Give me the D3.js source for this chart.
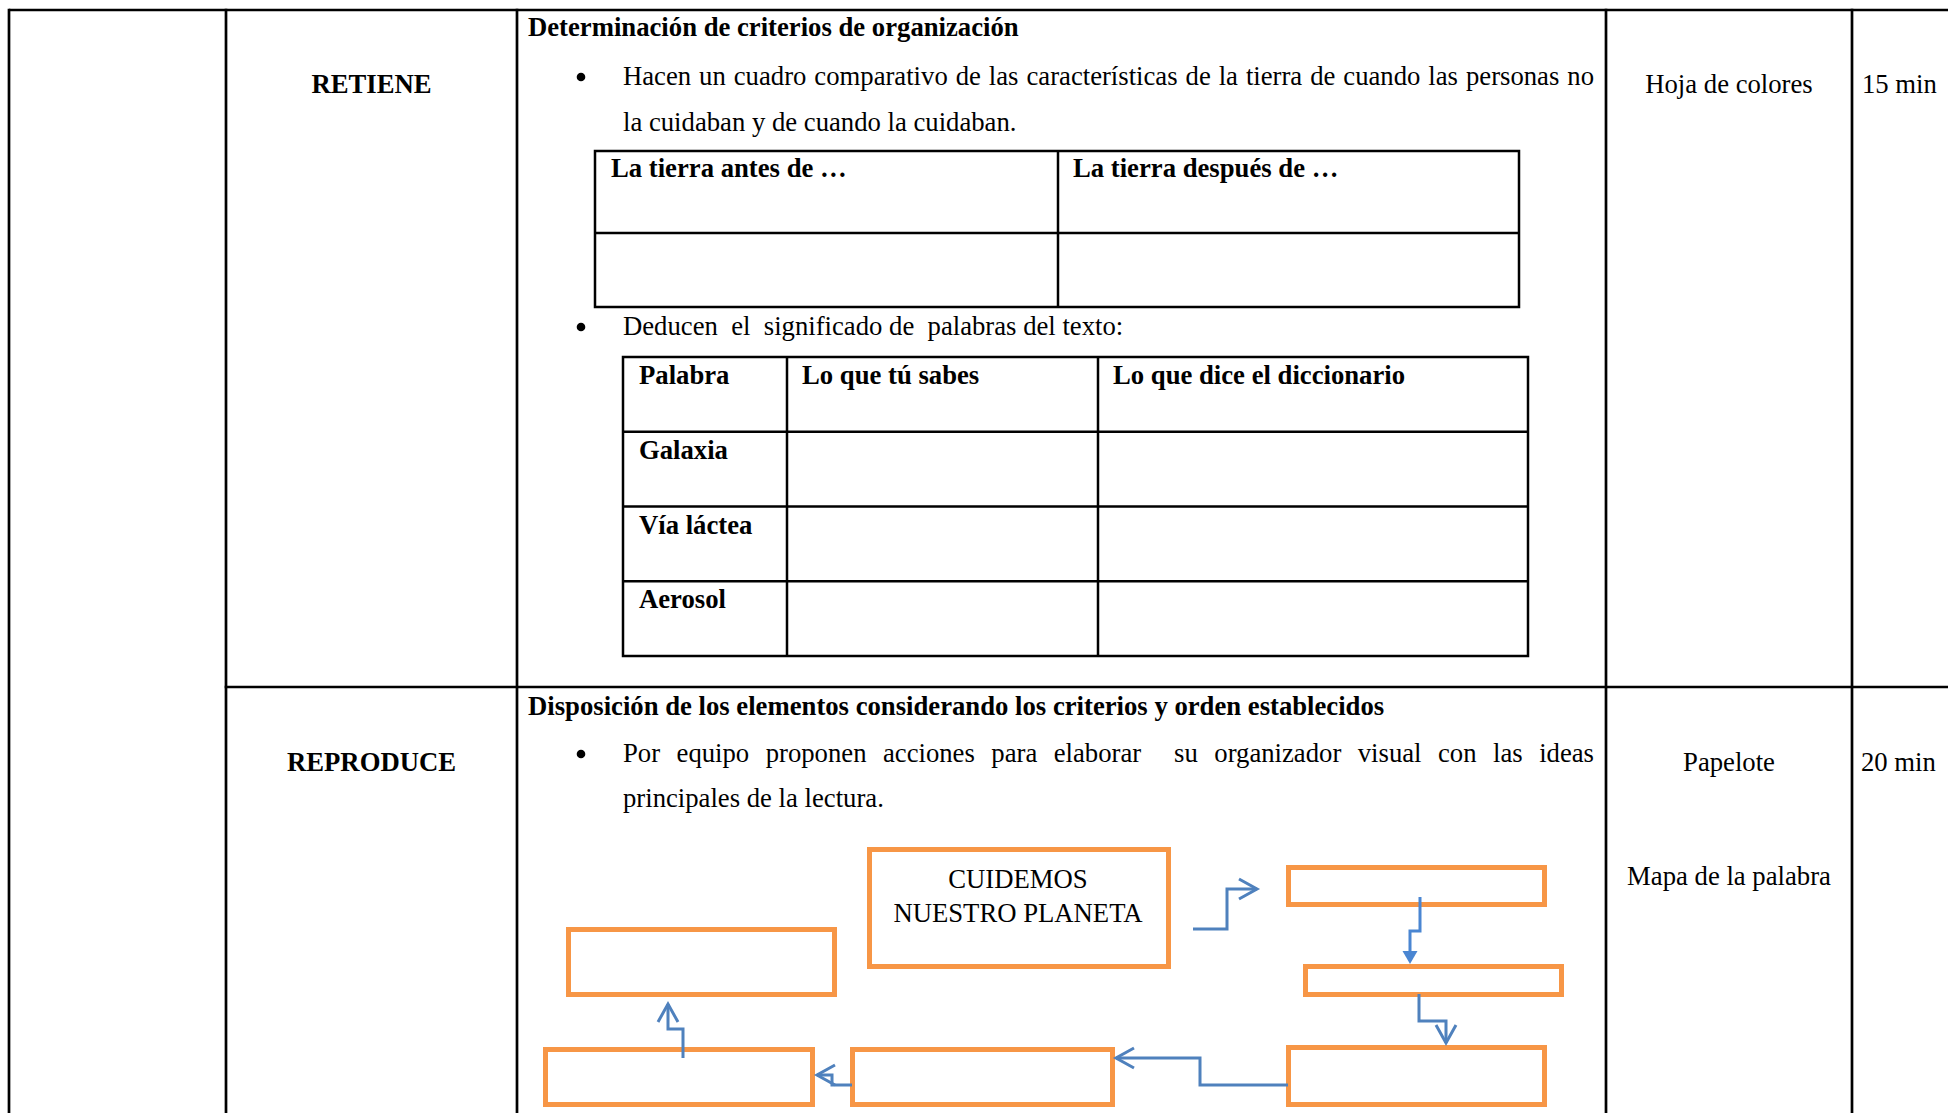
<!DOCTYPE html>
<html>
<head>
<meta charset="utf-8">
<script src="https://cdn.jsdelivr.net/npm/d3@7"></script>
<style>
html, body { margin: 0; padding: 0; background: #fff; overflow: hidden; }
svg text { font-family: "Liberation Serif", "Times New Roman", serif; fill: #000; white-space: pre; }
</style>
</head>
<body>
<svg id="page" width="1948" height="1113"></svg>
<script>
// ---------------- content (data) ----------------
const phases = ["RETIENE", "REPRODUCE"];
const headings = [
  "Determinación de criterios de organización",
  "Disposición de los elementos considerando los criterios y orden establecidos"
];
const retieneBullet1 = [
  "Hacen un cuadro comparativo de las características de la tierra de cuando las personas no",
  "la cuidaban y de cuando la cuidaban."
];
const retieneBullet2 = ["Deducen  el  significado de  palabras del texto:"];
const reproduceBullet = [
  "Por equipo proponen acciones para elaborar  su organizador visual con las ideas",
  "principales de la lectura."
];
const compareHeaders = ["La tierra antes de …", "La tierra después de …"];
const wordHeaders = ["Palabra", "Lo que tú sabes", "Lo que dice el diccionario"];
const words = ["Galaxia", "Vía láctea", "Aerosol"];
const resources = [["Hoja de colores"], ["Papelote", "Mapa de la palabra"]];
const times = ["15 min", "20 min"];
const mapTitle = ["CUIDEMOS", "NUESTRO PLANETA"];
const mapNodes = ["title", "upperLeft", "bottomLeft", "bottomMid", "topRight", "midRight", "bottomRight"];
const mapLinks = [
  ["title", "topRight", "open"],
  ["topRight", "midRight", "filled"],
  ["midRight", "bottomRight", "open"],
  ["bottomRight", "bottomMid", "open"],
  ["bottomMid", "bottomLeft", "open"],
  ["bottomLeft", "upperLeft", "open"]
];

// ---------------- layout ----------------
const W = 1948, H = 1113;
const FS = 26.7;
const colX = [9, 226, 517, 1606, 1852, 2000];
const rowY = [10, 687, 1200];
const ORANGE = "#F79646", BLUE = "#4F81BD", BLUE2 = "#4A86D2";

const svg = d3.select("#page");
svg.append("rect").attr("width", W).attr("height", H).attr("fill", "#fff");

const g = svg.append("g");

// main table lines
const line = (x1, y1, x2, y2, sw) => g.append("line")
  .attr("x1", x1).attr("y1", y1).attr("x2", x2).attr("y2", y2)
  .attr("stroke", "#000").attr("stroke-width", sw);

line(colX[0], rowY[0], W + 10, rowY[0], 2.7);
colX.slice(0, 5).forEach(x => line(x, rowY[0] - 1.3, x, H + 10, 2.7));
line(colX[1] - 1.3, rowY[1], W + 10, rowY[1], 2.7);

function txt(s, x, y, opts = {}) {
  const t = g.append("text").attr("x", x).attr("y", y)
    .attr("font-size", FS)
    .attr("font-weight", opts.bold ? "bold" : "normal")
    .attr("text-anchor", opts.anchor || "start")
    .text(s);
  if (opts.justify) {
    const w = t.node().getComputedTextLength();
    const n = (s.match(/ /g) || []).length;
    if (n) t.style("word-spacing", ((opts.justify - x - w) / n) + "px");
  }
  return t;
}
function bullet(x, y) {
  g.append("circle").attr("cx", x).attr("cy", y).attr("r", 4.3).attr("fill", "#000");
}

const phaseCx = (colX[1] + colX[2]) / 2;
const resCx = (colX[3] + colX[4]) / 2;
const textX = 528, bulletX = 581, bulletTextX = 623, justifyEnd = 1594;

// ----- row 1 -----
txt(phases[0], phaseCx, 93, { bold: true, anchor: "middle" });
txt(headings[0], textX, 36, { bold: true });
bullet(bulletX, 77);
txt(retieneBullet1[0], bulletTextX, 85, { justify: justifyEnd });
txt(retieneBullet1[1], bulletTextX, 131);
txt(resources[0][0], resCx, 93, { anchor: "middle" });
txt(times[0], 1862, 93);

// comparison table
const t1 = { x0: 595, x1: 1519, xm: 1058, y0: 151, ym: 233, y1: 307 };
g.append("rect").attr("x", t1.x0).attr("y", t1.y0).attr("width", t1.x1 - t1.x0).attr("height", t1.y1 - t1.y0)
  .attr("fill", "none").attr("stroke", "#000").attr("stroke-width", 2.5);
line(t1.x0, t1.ym, t1.x1, t1.ym, 2.5);
line(t1.xm, t1.y0, t1.xm, t1.y1, 2.5);
const c1x = d3.scaleOrdinal().domain(compareHeaders).range([t1.x0 + 16, t1.xm + 15]);
compareHeaders.forEach(h => txt(h, c1x(h), 177, { bold: true }));

bullet(bulletX, 327);
txt(retieneBullet2[0], bulletTextX, 335);

// word table
const t2x = [623, 787, 1098, 1528];
const rowsAll = ["__head"].concat(words);
const t2y = d3.scaleBand().domain(rowsAll).range([357, 656]);
g.append("rect").attr("x", t2x[0]).attr("y", t2y.range()[0])
  .attr("width", t2x[3] - t2x[0]).attr("height", t2y.range()[1] - t2y.range()[0])
  .attr("fill", "none").attr("stroke", "#000").attr("stroke-width", 2.5);
rowsAll.slice(1).forEach(r => line(t2x[0], t2y(r), t2x[3], t2y(r), 2.5));
[t2x[1], t2x[2]].forEach(x => line(x, t2y.range()[0], x, t2y.range()[1], 2.5));
wordHeaders.forEach((h, i) => txt(h, t2x[i] + 16 - (i ? 1 : 0), t2y("__head") + 27, { bold: true }));
words.forEach(w => txt(w, t2x[0] + 16, t2y(w) + 27, { bold: true }));

// ----- row 2 -----
txt(phases[1], phaseCx, 771, { bold: true, anchor: "middle" });
txt(headings[1], textX, 715, { bold: true });
bullet(bulletX, 754);
txt(reproduceBullet[0], bulletTextX, 762, { justify: justifyEnd });
txt(reproduceBullet[1], bulletTextX, 807);
txt(resources[1][0], resCx, 771, { anchor: "middle" });
txt(resources[1][1], resCx, 885, { anchor: "middle" });
txt(times[1], 1861, 771);

// ----- concept map -----
const boxes = {
  title:       [867, 847, 1171, 969],
  upperLeft:   [566, 927, 837, 997],
  bottomLeft:  [543, 1047, 815, 1107],
  bottomMid:   [850, 1047, 1115, 1107],
  topRight:    [1286, 865, 1547, 907],
  midRight:    [1303, 964, 1564, 997],
  bottomRight: [1286, 1045, 1547, 1107]
};
const SW = 5;
g.selectAll("rect.node").data(mapNodes).join("rect").attr("class", "node")
  .attr("x", d => boxes[d][0] + SW / 2).attr("y", d => boxes[d][1] + SW / 2)
  .attr("width", d => boxes[d][2] - boxes[d][0] - SW).attr("height", d => boxes[d][3] - boxes[d][1] - SW)
  .attr("fill", "none").attr("stroke", ORANGE).attr("stroke-width", SW);

const tb = boxes.title;
mapTitle.forEach((s, i) => txt(s, (tb[0] + tb[2]) / 2 - 1, 888 + i * 34, { anchor: "middle" }));

const routes = {
  "title>topRight":       [[1193, 929], [1227, 929], [1227, 889], [1257, 889]],
  "topRight>midRight":    [[1420, 897], [1420, 931], [1410, 931], [1410, 964]],
  "midRight>bottomRight": [[1419, 994], [1419, 1021], [1446, 1021], [1446, 1043]],
  "bottomRight>bottomMid":[[1288, 1085], [1200, 1085], [1200, 1058], [1116, 1058]],
  "bottomMid>bottomLeft": [[852, 1085], [832, 1085], [832, 1075], [817, 1075]],
  "bottomLeft>upperLeft": [[683, 1058], [683, 1029], [668, 1029], [668, 1004]]
};
const lineGen = d3.line();
mapLinks.forEach(([a, b, kind]) => {
  const pts = routes[a + ">" + b].map(p => p.slice());
  const tip = pts[pts.length - 1], prev = pts[pts.length - 2];
  const dx = tip[0] - prev[0], dy = tip[1] - prev[1];
  const len = Math.hypot(dx, dy), ux = dx / len, uy = dy / len, px = -uy, py = ux;
  if (kind === "filled") {
    const L = 13, Wd = 7.5;
    const base = [tip[0] - ux * L, tip[1] - uy * L];
    const body = pts.slice(0, -1).concat([base]);
    g.append("path").attr("d", lineGen(body)).attr("fill", "none").attr("stroke", BLUE2).attr("stroke-width", 3);
    g.append("path").attr("d", lineGen([tip, [base[0] + px * Wd, base[1] + py * Wd], [base[0] - px * Wd, base[1] - py * Wd]]) + "Z")
      .attr("fill", BLUE2).attr("stroke", "none");
  } else {
    const L = 18, Wd = 10;
    g.append("path").attr("d", lineGen(pts)).attr("fill", "none").attr("stroke", BLUE).attr("stroke-width", 3);
    const head = [[tip[0] - ux * L + px * Wd, tip[1] - uy * L + py * Wd], tip, [tip[0] - ux * L - px * Wd, tip[1] - uy * L - py * Wd]];
    g.append("path").attr("d", lineGen(head)).attr("fill", "none").attr("stroke", BLUE).attr("stroke-width", 3);
  }
});
</script>
</body>
</html>
